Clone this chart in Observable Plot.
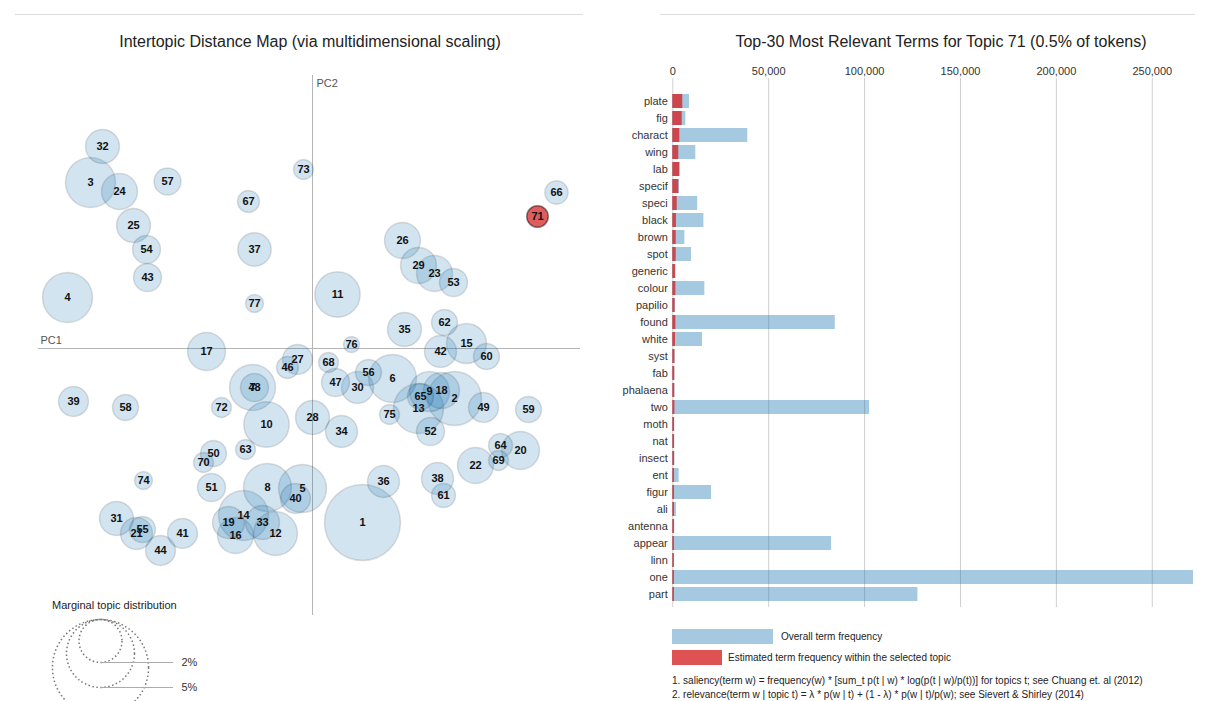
<!DOCTYPE html>
<html><head><meta charset="utf-8">
<script src="https://cdn.jsdelivr.net/npm/d3@7"></script>
<script src="https://cdn.jsdelivr.net/npm/@observablehq/plot@0.6"></script>
<style>
body{margin:0;background:#fff;font-family:"Liberation Sans",Arial,sans-serif;}
#root{position:relative;width:1209px;height:701px;overflow:hidden;}
.abs{position:absolute;}
.title{font-size:16px;color:#222;white-space:nowrap;transform:translate(-50%,-50%);}
.small{font-size:10px;color:#222;white-space:nowrap;transform:translateY(-50%);}
.sep{height:1px;background:#ddd;}
</style></head><body><div id="root"></div>
<script>
// ---- data ----
const topicIds = [1,2,3,4,5,6,7,8,9,10,11,12,13,14,15,16,17,18,19,20,21,22,23,24,25,26,27,28,29,30,31,32,33,34,35,36,37,38,39,40,41,42,43,44,46,47,48,49,50,51,52,53,54,55,56,57,58,59,60,61,62,63,64,65,66,67,68,69,70,71,72,73,74,75,76,77];
const topicPC1 = [0.050,0.142,-0.222,-0.245,-0.010,0.080,-0.060,-0.045,0.117,-0.046,0.025,-0.037,0.106,-0.069,0.154,-0.077,-0.106,0.129,-0.084,0.208,-0.176,0.163,0.122,-0.193,-0.179,0.090,-0.015,0.000,0.106,0.045,-0.196,-0.210,-0.050,0.029,0.092,0.071,-0.058,0.125,-0.239,-0.017,-0.130,0.128,-0.165,-0.152,-0.025,0.023,-0.058,0.171,-0.099,-0.101,0.118,0.141,-0.166,-0.170,0.056,-0.145,-0.187,0.216,0.174,0.131,0.132,-0.067,0.188,0.108,0.244,-0.064,0.016,0.186,-0.109,0.225,-0.091,-0.009,-0.169,0.077,0.039,-0.058];
const topicPC2 = [-0.174,-0.050,0.166,0.051,-0.140,-0.030,-0.039,-0.139,-0.043,-0.076,0.054,-0.185,-0.060,-0.167,0.005,-0.187,-0.003,-0.042,-0.174,-0.102,-0.185,-0.117,0.075,0.157,0.123,0.108,-0.011,-0.069,0.083,-0.039,-0.170,0.202,-0.174,-0.083,0.019,-0.133,0.099,-0.130,-0.053,-0.150,-0.185,-0.003,0.071,-0.202,-0.019,-0.034,-0.039,-0.059,-0.105,-0.139,-0.083,0.066,0.099,-0.181,-0.024,0.167,-0.059,-0.061,-0.008,-0.147,0.026,-0.101,-0.097,-0.048,0.156,0.147,-0.014,-0.112,-0.114,0.132,-0.059,0.179,-0.132,-0.066,0.004,0.045];
const topicFreq = [6.25,3.16,2.71,2.71,2.49,2.49,2.29,2.49,1.73,2.23,2.23,2.09,2.71,2.71,1.73,1.40,1.56,1.40,1.11,1.56,1.11,1.40,1.40,1.40,1.25,1.40,0.97,1.25,1.40,1.11,1.25,1.25,1.25,1.11,1.25,1.11,1.21,1.11,0.97,0.97,0.97,1.11,0.85,0.97,0.52,0.85,0.85,0.97,0.73,0.85,0.85,0.85,0.85,0.73,0.73,0.79,0.73,0.73,0.73,0.62,0.73,0.43,0.62,0.73,0.59,0.52,0.43,0.43,0.43,0.50,0.43,0.43,0.35,0.43,0.28,0.35];
const selectedTopic = 71;

const terms = ["plate","fig","charact","wing","lab","specif","speci","black","brown","spot","generic","colour","papilio","found","white","syst","fab","phalaena","two","moth","nat","insect","ent","figur","ali","antenna","appear","linn","one","part"];
const termTotal = [8700,6800,39100,12000,4000,3500,13000,16200,6300,9750,1600,16700,1400,84700,15500,1200,1100,1100,102600,1000,1000,1100,3300,20200,1900,1000,82800,900,271500,127800];
const termTopicFreq = [5200,4900,3650,3100,3500,3100,2300,1900,1750,1750,1400,1600,1200,1600,1400,1100,1000,1000,1100,900,900,900,900,900,900,850,850,800,850,850];
const xTicks = [0,50000,100000,150000,200000,250000];

const legendFreqs = [2,5,10];
const legendLabels = ["2%","5%","10%"];

const leftTitle = "Intertopic Distance Map (via multidimensional scaling)";
const rightTitle = "Top-30 Most Relevant Terms for Topic 71 (0.5% of tokens)";
const barLegend = ["Overall term frequency","Estimated term frequency within the selected topic"];
const footnotes = ["1. saliency(term w) = frequency(w) * [sum_t p(t | w) * log(p(t | w)/p(t))] for topics t; see Chuang et. al (2012)",
                   "2. relevance(term w | topic t) = \u03bb * p(w | t) + (1 - \u03bb) * p(w | t)/p(w); see Sievert & Shirley (2014)"];

// ---- build ----
const root = document.getElementById("root");
function place(el, left, top){ el.classList.add("abs"); el.style.left = left+"px"; el.style.top = top+"px"; root.appendChild(el); return el; }
function div(cls, text, left, top){ const d = document.createElement("div"); d.className = cls; if (text) d.textContent = text; return place(d,left,top); }

const font = "'Liberation Sans', Arial, sans-serif";
const topics = topicIds.map((id,i)=>({id, x: topicPC1[i], y: topicPC2[i], freq: topicFreq[i]}));
const others = topics.filter(d=>d.id!==selectedTopic);
const sel = topics.filter(d=>d.id===selectedTopic);

const left = Plot.plot({
  width: 600, height: 620,
  marginLeft: 38, marginRight: 20, marginTop: 75, marginBottom: 5,
  x: {domain:[-0.3,0.3], range:[12,612], axis:null},
  y: {domain:[-0.3,0.3], range:[648,48], axis:null},
  r: {type:"sqrt", domain:[0,1], range:[0,15.2]},
  style: {fontFamily: font, fontSize: "11px", color:"#333", background:"transparent", overflow:"visible"},
  marks: [
    Plot.ruleY([0], {stroke:"#b5b5b5"}),
    Plot.ruleX([0], {stroke:"#b5b5b5"}),
    Plot.text(["PC2"], {x: ()=>0, frameAnchor:"top", dy: 4, dx: 4, textAnchor:"start", fill:"#555", fontSize: 11}),
    Plot.text(["PC1"], {y: ()=>0, frameAnchor:"left", dy: -8, dx: 2, textAnchor:"start", fill:"#555", fontSize: 11}),
    Plot.dot(others, {x:"x", y:"y", r:"freq", fill:"#1f77b4", fillOpacity:0.2, stroke:"#000", strokeOpacity:0.12}),
    Plot.dot(sel, {x:"x", y:"y", r:"freq", fill:"#d62728", fillOpacity:0.75, stroke:"#000", strokeOpacity:0.45}),
    Plot.text(topics, {x:"x", y:"y", text: d=>String(d.id), fontWeight:"bold", fontSize:11, fill:"#111"})
  ]
});
place(left, 0, 0);

const rScale = left.scale("r");
const legTop = 29, legCx = 100, legLineEnd = 173, legLabelX = 181;
const legendData = legendFreqs.map((p,i)=>{ const r = rScale.apply(p); return {label: legendLabels[i], r, cx: legCx, cy: legTop + r}; });
const legendPlot = Plot.plot({
  width: 320, height: 111, margin: 0,
  x: {type:"identity", axis:null}, y: {type:"identity", axis:null}, r: {type:"identity"},
  style: {fontFamily: font, fontSize: "11px", color:"#333", background:"transparent"},
  marks: [
    Plot.dot(legendData, {x:"cx", y:"cy", r:"r", fill:"none", stroke:"#777", strokeDasharray:"1.5,2.5"}),
    Plot.ruleY(legendData, {y: d=>d.cy + d.r, x1:"cx", x2: ()=>legLineEnd, stroke:"#aaa"}),
    Plot.text(legendData.filter(d=>d.cy + d.r < 111), {x: ()=>legLabelX, y: d=>d.cy + d.r, text:"label", textAnchor:"start", fontSize:11, fill:"#333"})
  ]
});
place(legendPlot, 0, 590);
const mt = div("small", "Marginal topic distribution", 52, 605); mt.style.fontSize = "11px";

const bars = terms.map((t,i)=>({term:t, total: termTotal[i], freq: termTopicFreq[i]}));
const right = Plot.plot({
  width: 609, height: 620,
  marginLeft: 72.3, marginRight: 16, marginTop: 78, marginBottom: 13,
  x: {domain:[0, 271500], axis:null},
  y: {domain: terms, range:[86.3,608.7], paddingInner:0.2, paddingOuter:0.1, axis:null},
  style: {fontFamily: font, fontSize: "11px", color:"#333", background:"transparent", overflow:"visible"},
  marks: [
    Plot.gridX(xTicks, {stroke:"#bbb", strokeOpacity:0.7}),
    Plot.axisX(xTicks, {anchor:"top", tickSize:0, tickPadding:4, tickFormat: d3.format(","), fontSize: 11, label: null}),
    Plot.barX(bars, {x:"total", y:"term", fill:"#1f77b4", fillOpacity:0.4}),
    Plot.barX(bars, {x:"freq", y:"term", fill:"#d62728", fillOpacity:0.8}),
    Plot.axisY({tickSize:0, tickPadding:5, fontSize: 11, label: null})
  ]
});
place(right, 600, 0);

// titles, separators, legend, notes
const s1 = div("sep", "", 15, 14); s1.style.width = "568px";
const s2 = div("sep", "", 660, 14); s2.style.width = "535px";
div("title", leftTitle, 310, 42);
div("title", rightTitle, 941, 42);
const b1 = div("", "", 672, 629); b1.style.cssText += "width:101px;height:15px;background:rgba(31,119,180,0.4);";
const b2 = div("", "", 672, 650); b2.style.cssText += "width:50px;height:15px;background:rgba(214,39,40,0.8);";
div("small", barLegend[0], 781, 636);
div("small", barLegend[1], 728, 657);
div("small", footnotes[0], 672, 680);
div("small", footnotes[1], 672, 694);
</script></body></html>
